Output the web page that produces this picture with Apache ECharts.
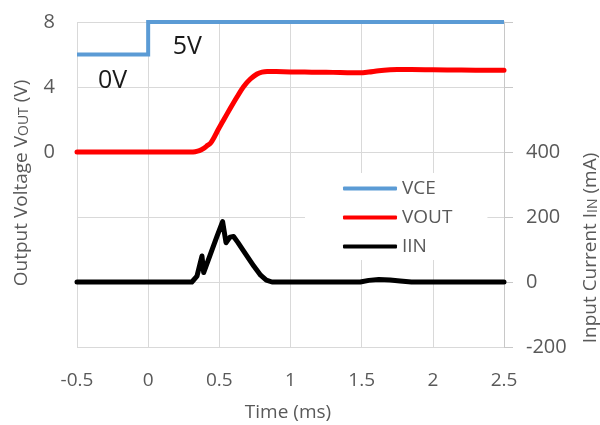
<!DOCTYPE html>
<html><head><meta charset="utf-8">
<script src="https://cdn.jsdelivr.net/npm/echarts@6/dist/echarts.min.js"></script>
<style>html,body{margin:0;padding:0;background:#fff}#c{width:600px;height:425px}</style>
</head><body><div id="c"></div>
<script>
// ---- data ----
const seriesNames = ['VCE', 'VOUT', 'IIN'];
const vceT = [-0.5, 0, 0, 2.5];
const vceV = [6, 6, 8, 8];
const voutT = [-0.5, 0.30, 0.33, 0.36, 0.39, 0.41, 0.437, 0.46, 0.484, 0.53, 0.577, 0.625, 0.67, 0.718, 0.765, 0.80, 0.836, 0.9, 1.0, 1.1, 1.2, 1.3, 1.4, 1.49, 1.55, 1.62, 1.7, 1.75, 1.85, 2.0, 2.2, 2.4, 2.5];
const voutV = [0, 0, 0.02, 0.08, 0.22, 0.36, 0.53, 0.84, 1.25, 1.97, 2.69, 3.4, 4.02, 4.49, 4.8, 4.92, 4.96, 4.95, 4.93, 4.92, 4.91, 4.9, 4.88, 4.87, 4.92, 5.0, 5.06, 5.08, 5.08, 5.06, 5.04, 5.03, 5.03];
const iinT = [-0.5, 0.307, 0.343, 0.366, 0.378, 0.39, 0.437, 0.484, 0.523, 0.547, 0.575, 0.600, 0.63, 0.671, 0.742, 0.79, 0.83, 0.87, 0.9, 1.4, 1.49, 1.55, 1.62, 1.7, 1.77, 1.85, 2.0, 2.5];
const iinI = [0, 0, 18, 59, 80, 29, 85, 141, 186, 121, 138, 140, 122, 95, 49, 21, 6, 0, 0, 0, 0, 5, 8, 6, 3, 0, 0, 0];
const xTickLabels = ['-0.5', '0', '0.5', '1', '1.5', '2', '2.5'];
const leftTickLabels = ['0', '4', '8'];
const rightTickLabels = ['-200', '0', '200', '400'];
const annotLabels = ['0V', '5V'];
const annotT = [-0.25, 0.275];
const annotV = [4.37, 6.46];
const xTitle = 'Time (ms)';
const leftTitle = 'Output Voltage V{s|OUT} (V)';
const rightTitle = 'Input Current I{s|IN} (mA)';

// ---- chart ----
const FONT = 'Open Sans';
const GRAY = '#595959';
const zip = (a, b) => a.map((v, i) => [v, b[i]]);
const chart = echarts.init(document.getElementById('c'), null, {renderer: 'canvas'});
chart.setOption({
  animation: false,
  backgroundColor: '#fff',
  grid: {left: 77, right: 96, top: 22, bottom: 78, containLabel: false},
  xAxis: {
    type: 'value', min: -0.5, max: 2.5, interval: 0.5,
    axisLine: {show: false}, axisTick: {show: false},
    splitLine: {show: true, lineStyle: {color: '#D9D9D9', width: 1}},
    axisLabel: {
      margin: 24, color: GRAY, fontFamily: FONT, fontSize: 19,
      formatter: v => xTickLabels.includes(String(v)) ? String(v) : ''
    }
  },
  yAxis: [
    {
      type: 'value', min: -12, max: 8, interval: 4, position: 'left',
      axisLine: {show: false}, axisTick: {show: false},
      splitLine: {show: true, lineStyle: {color: '#D9D9D9', width: 1}},
      axisLabel: {
        margin: 22, color: GRAY, fontFamily: FONT, fontSize: 20,
        formatter: v => leftTickLabels.includes(String(v)) ? String(v) : ''
      }
    },
    {
      type: 'value', min: -200, max: 800, interval: 200, position: 'right',
      axisLine: {show: true, onZero: false, lineStyle: {color: '#C8C8C8', width: 1}},
      axisTick: {show: true, inside: false, length: 9, lineStyle: {color: '#C8C8C8'}},
      splitLine: {show: false},
      axisLabel: {
        margin: 22, color: GRAY, fontFamily: FONT, fontSize: 20,
        formatter: v => rightTickLabels.includes(String(v)) ? String(v) : ''
      }
    }
  ],
  legend: {
    orient: 'vertical', left: 305, top: 173,
    backgroundColor: '#fff', padding: [6, 35, 4, 38],
    itemWidth: 54, itemHeight: 4, itemGap: 10, icon: 'roundRect',
    textStyle: {fontFamily: FONT, fontSize: 19, color: GRAY},
    data: seriesNames
  },
  series: [
    {
      name: seriesNames[0], type: 'line', yAxisIndex: 0, clip: false,
      showSymbol: false, symbol: 'none', color: '#5B9BD5',
      lineStyle: {width: 4, color: '#5B9BD5', cap: 'butt', join: 'miter'},
      data: zip(vceT, vceV), z: 3
    },
    {
      name: seriesNames[1], type: 'line', yAxisIndex: 0,
      showSymbol: false, symbol: 'none', color: '#FF0000', smooth: 0.3,
      lineStyle: {width: 5, color: '#FF0000', cap: 'round', join: 'round'},
      data: zip(voutT, voutV), z: 3
    },
    {
      name: seriesNames[2], type: 'line', yAxisIndex: 1,
      showSymbol: false, symbol: 'none', color: '#000000',
      lineStyle: {width: 5, color: '#000000', cap: 'round', join: 'round'},
      data: zip(iinT, iinI), z: 4
    }
  ]
});

const titleRich = {s: {fontFamily: FONT, fontSize: 14, fill: GRAY, verticalAlign: 'bottom'}};
const graphics = [
  {type: 'text', id: 'xt', x: 288, y: 413, style: {text: xTitle, fontFamily: FONT, fontSize: 19, fill: GRAY, align: 'center', verticalAlign: 'middle'}},
  {type: 'text', id: 'lt', x: 22, y: 183, rotation: Math.PI / 2, style: {text: leftTitle, rich: titleRich, fontFamily: FONT, fontSize: 19, fill: GRAY, align: 'center', verticalAlign: 'middle'}},
  {type: 'text', id: 'rt', x: 591, y: 248, rotation: Math.PI / 2, style: {text: rightTitle, rich: titleRich, fontFamily: FONT, fontSize: 19, fill: GRAY, align: 'center', verticalAlign: 'middle'}}
];
annotLabels.forEach((lab, i) => {
  const p = chart.convertToPixel({xAxisIndex: 0, yAxisIndex: 0}, [annotT[i], annotV[i]]);
  graphics.push({type: 'text', id: 'a' + i, x: p[0], y: p[1], style: {text: lab, fontFamily: FONT, fontSize: 25, fill: '#1a1a1a', align: 'center', verticalAlign: 'middle'}});
});
chart.setOption({graphic: graphics});
</script></body></html>
